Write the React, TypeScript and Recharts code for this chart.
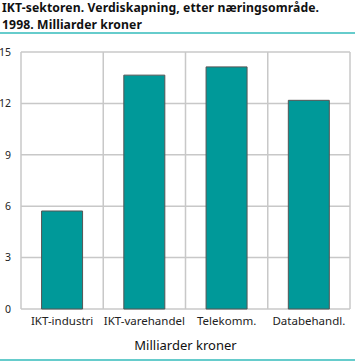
import React from "react";
import { BarChart, Bar, XAxis, YAxis, CartesianGrid } from "recharts";

const categories = ["IKT-industri", "IKT-varehandel", "Telekomm.", "Databehandl."];
const values = [5.72, 13.65, 14.13, 12.18];
const yTicks = [0, 3, 6, 9, 12, 15];
const titleLines = ["IKT-sektoren. Verdiskapning, etter næringsområde.", "1998. Milliarder kroner"];
const xAxisTitle = "Milliarder kroner";

const data = categories.map((c, i) => ({ name: c, value: values[i] }));

const font = "'Noto Sans', sans-serif";

export default function App() {
  return (
    <div style={{ position: "absolute", left: 0, top: 0, width: 355, height: 361, background: "#fff", fontFamily: font, overflow: "hidden" }}>
      {titleLines.map((t, i) => (
        <div
          key={t}
          style={{ position: "absolute", left: 2, top: 0 + i * 16.5, fontWeight: 700, fontSize: 12.2, lineHeight: "16.5px", color: "#111", whiteSpace: "nowrap", letterSpacing: 0.1 }}
        >
          {t}
        </div>
      ))}
      <div style={{ position: "absolute", left: 0, top: 32, width: 355, height: 2, background: "#66cccc" }} />
      <BarChart
        width={355}
        height={361}
        data={data}
        margin={{ top: 52, right: 5, left: 0, bottom: 31 }}
        barCategoryGap="25%"
        style={{ position: "absolute", left: 0, top: 0 }}
      >
        <CartesianGrid
          stroke="#c8c8c8"
          strokeWidth={1.5}
          verticalCoordinatesGenerator={({ offset }: any) =>
            [0, 1, 2, 3, 4].map((i) => offset.left + (i * offset.width) / categories.length)
          }
        />
        <XAxis
          dataKey="name"
          axisLine={false}
          tickLine={false}
          height={21}
          interval={0}
          tick={{ fontSize: 11.5, fill: "#222", fontFamily: font }}
          tickMargin={2}
        />
        <YAxis
          domain={[0, 15]}
          ticks={yTicks}
          axisLine={false}
          tickLine={false}
          width={21}
          interval={0}
          tick={{ fontSize: 10.5, fill: "#222", fontFamily: font }}
          tickMargin={4}
        />
        <Bar dataKey="value" fill="#009999" stroke="#555" strokeWidth={1} isAnimationActive={false} />
      </BarChart>
      <div style={{ position: "absolute", left: 21, width: 329, top: 336, textAlign: "center", fontSize: 13, color: "#111" }}>
        {xAxisTitle}
      </div>
      <div style={{ position: "absolute", left: 0, top: 359, width: 355, height: 2, background: "#66cccc" }} />
    </div>
  );
}
